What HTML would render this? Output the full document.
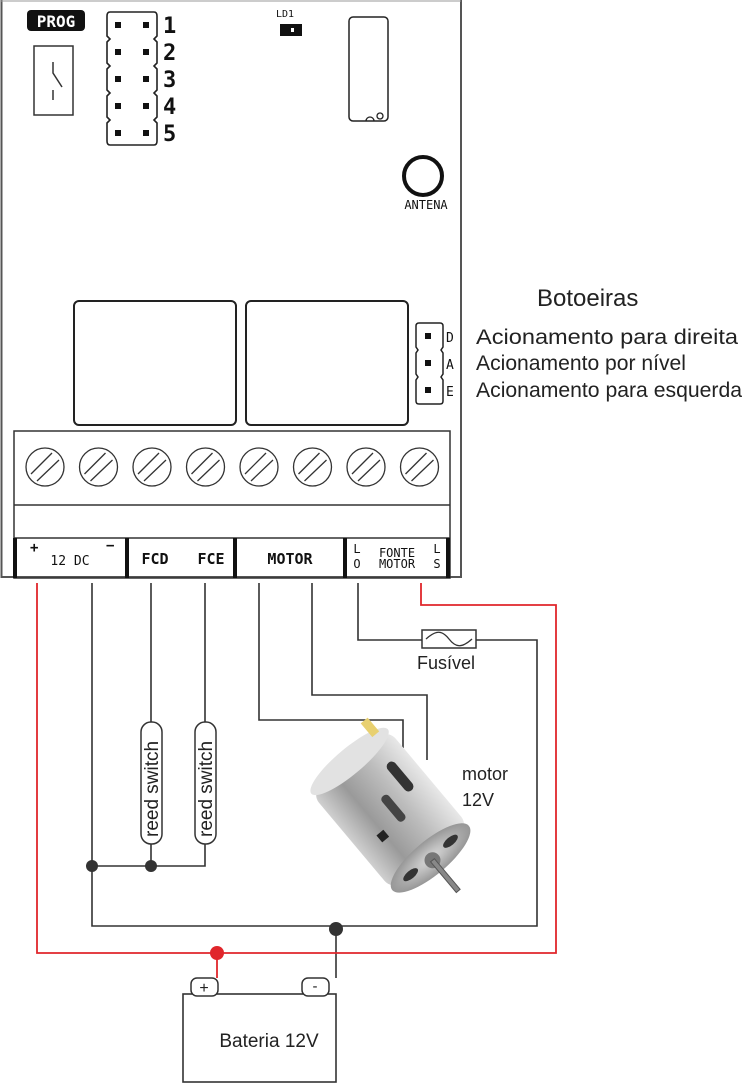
<!DOCTYPE html>
<html><head><meta charset="utf-8"><style>
html,body{margin:0;padding:0;background:#fff;}
svg{display:block;}
.m{font-family:"DejaVu Sans Mono","Liberation Mono",monospace;}
.s{font-family:"Liberation Sans",sans-serif;}
</style></head><body>
<svg width="742" height="1084" viewBox="0 0 742 1084" xmlns="http://www.w3.org/2000/svg">
<defs>
<linearGradient id="body" x1="0" y1="0" x2="0" y2="1">
<stop offset="0" stop-color="#e8e8e8"/><stop offset="0.35" stop-color="#bdbdbd"/><stop offset="0.7" stop-color="#9a9a9a"/><stop offset="1" stop-color="#d0d0d0"/>
</linearGradient>
<radialGradient id="cap" cx="0.5" cy="0.5" r="0.6"><stop offset="0" stop-color="#d8d8d8"/><stop offset="1" stop-color="#8a8a8a"/></radialGradient>
</defs>
<path d="M1.5 0 V577 H461 V0" fill="none" stroke="#555" stroke-width="2"/>
<line x1="1" y1="1" x2="461" y2="1" stroke="#999" stroke-width="1"/>
<rect x="27" y="10" width="58" height="21" rx="4" fill="#111"/>
<text x="56" y="27" class="m" font-size="16" font-weight="bold" fill="#fff" text-anchor="middle">PROG</text>
<rect x="34" y="46" width="39" height="69" fill="none" stroke="#333" stroke-width="1.5"/>
<path d="M53 62 V73 L62 87 M53 90 V100" fill="none" stroke="#333" stroke-width="1.5"/>
<g fill="none" stroke="#222" stroke-width="1.6">
<path d="M110 12 H154 Q157 12 157 16 V36 L154 39 L157 42 V63 L154 66 L157 69 V90 L154 93 L157 96 V117 L154 120 L157 123 V141 Q157 145 154 145 H110 Q107 145 107 141 V123 L110 120 L107 117 V96 L110 93 L107 90 V69 L110 66 L107 63 V42 L110 39 L107 36 V16 Q107 12 110 12 Z"/>
</g>
<g fill="#111">
<rect x="115" y="22" width="6" height="6"/><rect x="143" y="22" width="6" height="6"/>
<rect x="115" y="49" width="6" height="6"/><rect x="143" y="49" width="6" height="6"/>
<rect x="115" y="76" width="6" height="6"/><rect x="143" y="76" width="6" height="6"/>
<rect x="115" y="103" width="6" height="6"/><rect x="143" y="103" width="6" height="6"/>
<rect x="115" y="130" width="6" height="6"/><rect x="143" y="130" width="6" height="6"/>
</g>
<g class="m" font-size="22" font-weight="bold" fill="#111">
<text x="163" y="33">1</text><text x="163" y="60">2</text><text x="163" y="87">3</text><text x="163" y="114">4</text><text x="163" y="141">5</text>
</g>
<text x="285" y="17" class="m" font-size="10" fill="#111" text-anchor="middle">LD1</text>
<rect x="280" y="24" width="22" height="12" fill="#111"/><rect x="291" y="28" width="3" height="4" fill="#fff"/>
<rect x="349" y="17" width="39" height="104" rx="4" fill="none" stroke="#222" stroke-width="1.5"/>
<path d="M366 121 A4 4 0 0 1 374 121" fill="none" stroke="#222" stroke-width="1.3"/>
<circle cx="380" cy="116" r="3" fill="none" stroke="#222" stroke-width="1.3"/>
<circle cx="423" cy="176" r="19" fill="none" stroke="#111" stroke-width="4"/>
<text x="426" y="209" class="m" font-size="12" fill="#111" text-anchor="middle">ANTENA</text>
<rect x="74" y="301" width="162" height="124" rx="5" fill="none" stroke="#222" stroke-width="2"/>
<rect x="246" y="301" width="162" height="124" rx="5" fill="none" stroke="#222" stroke-width="2"/>
<path d="M419 323 H440 Q443 323 443 326 V347 L441 350 L443 353 V374 L441 377 L443 380 V401 Q443 404 440 404 H419 Q416 404 416 401 V380 L418 377 L416 374 V353 L418 350 L416 347 V326 Q416 323 419 323 Z" fill="none" stroke="#222" stroke-width="1.5"/>
<rect x="425" y="333" width="6" height="6" fill="#111"/><rect x="425" y="360" width="6" height="6" fill="#111"/><rect x="425" y="387" width="6" height="6" fill="#111"/>
<g class="m" font-size="13" fill="#111"><text x="446" y="342">D</text><text x="446" y="369">A</text><text x="446" y="396">E</text></g>
<text x="537" y="306" class="s" font-size="24" fill="#222">Botoeiras</text>
<g class="s" font-size="21" fill="#222">
<text x="476" y="344" textLength="262" lengthAdjust="spacingAndGlyphs">Acionamento para direita</text>
<text x="476" y="370" textLength="210" lengthAdjust="spacingAndGlyphs">Acionamento por nível</text>
<text x="476" y="397" textLength="266" lengthAdjust="spacingAndGlyphs">Acionamento para esquerda</text>
</g>
<rect x="14" y="431" width="436" height="147" fill="none" stroke="#333" stroke-width="1.5"/>
<line x1="14" y1="505" x2="450" y2="505" stroke="#333" stroke-width="1.5"/>
<line x1="14" y1="538" x2="450" y2="538" stroke="#333" stroke-width="1.5"/>
<g fill="none" stroke="#333" stroke-width="1.3">
<g id="sc"><circle cx="45" cy="467" r="19"/><line x1="31" y1="474" x2="52" y2="453"/><line x1="37" y1="481" x2="59" y2="460"/></g>
<use href="#sc" x="53.5"/><use href="#sc" x="107"/><use href="#sc" x="160.5"/><use href="#sc" x="214"/><use href="#sc" x="267.5"/><use href="#sc" x="321"/><use href="#sc" x="374.5"/>
</g>
<g stroke="#111" stroke-width="4">
<line x1="15" y1="538" x2="15" y2="578"/><line x1="127" y1="538" x2="127" y2="578"/><line x1="235" y1="538" x2="235" y2="578"/><line x1="345" y1="538" x2="345" y2="578"/><line x1="448" y1="538" x2="448" y2="578"/>
</g>
<g class="m" fill="#111">
<text x="30" y="552" font-size="14" font-weight="bold">+</text>
<text x="106" y="550" font-size="14" font-weight="bold">−</text>
<text x="70" y="565" font-size="13" text-anchor="middle">12 DC</text>
<text x="155" y="564" font-size="15" font-weight="bold" text-anchor="middle">FCD</text>
<text x="211" y="564" font-size="15" font-weight="bold" text-anchor="middle">FCE</text>
<text x="290" y="564" font-size="15" font-weight="bold" text-anchor="middle">MOTOR</text>
<text x="357" y="553" font-size="12" text-anchor="middle">L</text>
<text x="357" y="568" font-size="12" text-anchor="middle">O</text>
<text x="437" y="553" font-size="12" text-anchor="middle">L</text>
<text x="437" y="568" font-size="12" text-anchor="middle">S</text>
<text x="397" y="557" font-size="12" text-anchor="middle">FONTE</text>
<text x="397" y="568" font-size="12" text-anchor="middle">MOTOR</text>
</g>
<g fill="none" stroke="#333" stroke-width="1.6">
<path d="M92 583 V926 H537 V640 H476"/>
<path d="M358 583 V640 H422"/>
<path d="M151 583 V722 M151 844 V866 M92 866 H205 V844 M205 722 V583"/>
<path d="M259 583 V720 H403 V748"/>
<path d="M312 583 V695 H427 V760"/>
<path d="M336 926 V978"/>
</g>
<rect x="422" y="630" width="54" height="18" fill="#fff" stroke="#333" stroke-width="1.5"/>
<path d="M426 639 C436 630 442 630 449 639 C456 648 462 648 472 639" fill="none" stroke="#333" stroke-width="1.3"/>
<text x="417" y="669" class="s" font-size="18" fill="#222">Fusível</text>
<rect x="141" y="722" width="21" height="122" rx="10" fill="#fff" stroke="#333" stroke-width="1.5"/>
<rect x="195" y="722" width="21" height="122" rx="10" fill="#fff" stroke="#333" stroke-width="1.5"/>
<text class="s" font-size="19" fill="#222" transform="translate(158,837) rotate(-90)">reed switch</text>
<text class="s" font-size="19" fill="#222" transform="translate(212,837) rotate(-90)">reed switch</text>
<g fill="none" stroke="#e0262b" stroke-width="1.8">
<path d="M37 583 V953 H556 V605 H421 V583"/>
<path d="M217 953 V978"/>
</g>
<circle cx="217" cy="953" r="7" fill="#e0262b"/>
<g fill="#333"><circle cx="92" cy="866" r="6"/><circle cx="151" cy="866" r="6"/><circle cx="336" cy="929" r="7"/></g>
<rect x="183" y="994" width="153" height="88" fill="#fff" stroke="#333" stroke-width="1.6"/>
<rect x="191" y="978" width="27" height="18" rx="6" fill="#fff" stroke="#333" stroke-width="1.5"/>
<rect x="302" y="978" width="27" height="18" rx="6" fill="#fff" stroke="#333" stroke-width="1.5"/>
<text x="204" y="993" class="s" font-size="16" fill="#222" text-anchor="middle">+</text>
<text x="315" y="991" class="s" font-size="15" fill="#222" text-anchor="middle">-</text>
<text x="269" y="1047" class="s" font-size="19" fill="#222" text-anchor="middle">Bateria 12V</text>
<text x="462" y="780" class="s" font-size="18" fill="#222">motor</text>
<text x="462" y="806" class="s" font-size="18" fill="#222">12V</text>
<g transform="translate(392,812) rotate(50)">
<rect x="-66" y="-50" width="126" height="100" rx="12" fill="url(#body)"/>
<ellipse cx="60" cy="0" rx="17" ry="50" fill="url(#cap)"/>
<ellipse cx="-66" cy="0" rx="13" ry="50" fill="#e2e2e2"/>
<rect x="-40" y="-34" width="36" height="10" rx="5" fill="#333"/>
<rect x="-18" y="-8" width="32" height="9" rx="4" fill="#444"/>
<rect x="8" y="18" width="9" height="9" fill="#222"/>
<ellipse cx="60" cy="-26" rx="4" ry="9" fill="#333"/>
<ellipse cx="60" cy="26" rx="4" ry="9" fill="#333"/>
<circle cx="63" cy="0" r="8" fill="#777"/>
<rect x="63" y="-2.5" width="40" height="5" fill="#888" stroke="#555" stroke-width="1"/>
<rect x="-88" y="-42" width="18" height="9" fill="#e8d070"/>
</g>
</svg>
</body></html>
